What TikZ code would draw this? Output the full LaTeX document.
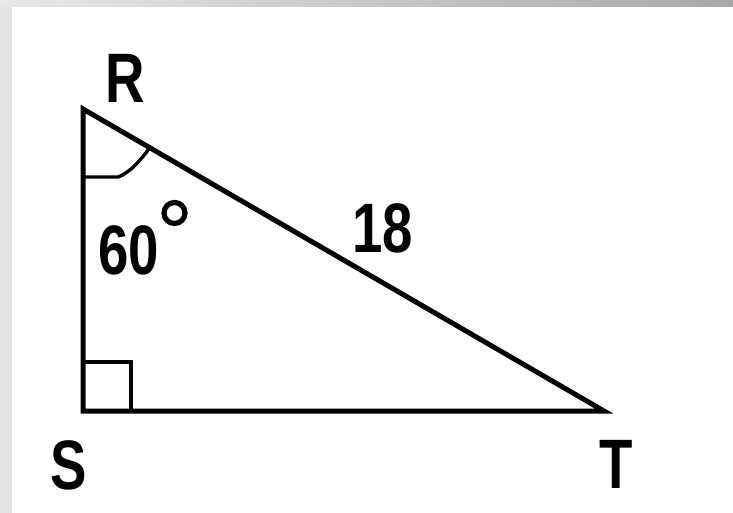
\documentclass[tikz,border=0pt]{standalone}
\usepackage{fontspec}
\setmainfont{Liberation Sans}
\usetikzlibrary{positioning,calc}
\definecolor{barlight}{HTML}{E8E8E8}
\definecolor{bardark}{HTML}{A8A8A8}
\definecolor{barside}{HTML}{E3E3E3}
\tikzset{
  edge/.style      = {line width=2.5pt, line join=miter},
  anglemark/.style = {line width=2.2pt, line join=miter},
  arcmark/.style   = {line width=1.7pt, line cap=round},
  lbl/.style       = {font=\fontsize{35}{40}\selectfont\bfseries, xscale=0.78,
                      inner sep=0pt, anchor=base},
  degmark/.style   = {line width=2.6pt},
}

\begin{document}
\begin{tikzpicture}[x=0.5pt, y=-0.5pt]
  \useasboundingbox (0,0) rectangle (733,513);
  % frame
  \fill[white] (0,0) rectangle (733,513);
  \fill[barside] (0,0) rectangle (12,513);
  \shade[left color=barlight, right color=bardark] (0,0) rectangle (733,7);

  \coordinate (R) at (83,109);
  \coordinate (S) at (83,411);
  \coordinate (T) at (604,411);

  % triangle
  \draw[edge] (R) -- (S) -- (T) -- cycle;
  \draw[anglemark] ($(S)+(0,-49)$) -- ++(48,0) -- ++(0,49);
  \draw[arcmark] ($(R)+(0,68)$) -- ++(35,0) .. controls +(12,-4) and +(-7,10) .. ($(R)!0.128!(T)$);

  % labels
  \node[lbl] (lblR) at (125,103) {R};
  \node[lbl] (lblS) at (69,489) {S};
  \node[lbl] (lblT) at (616,488) {T};
  \node[lbl] (ang) at (129,274) {60};
  \coordinate (deg) at (174.5,213);
  \draw[degmark] (deg) circle[radius=10.5];
  \node[lbl] (side) at (383,253) {18};
\end{tikzpicture}
\end{document}
